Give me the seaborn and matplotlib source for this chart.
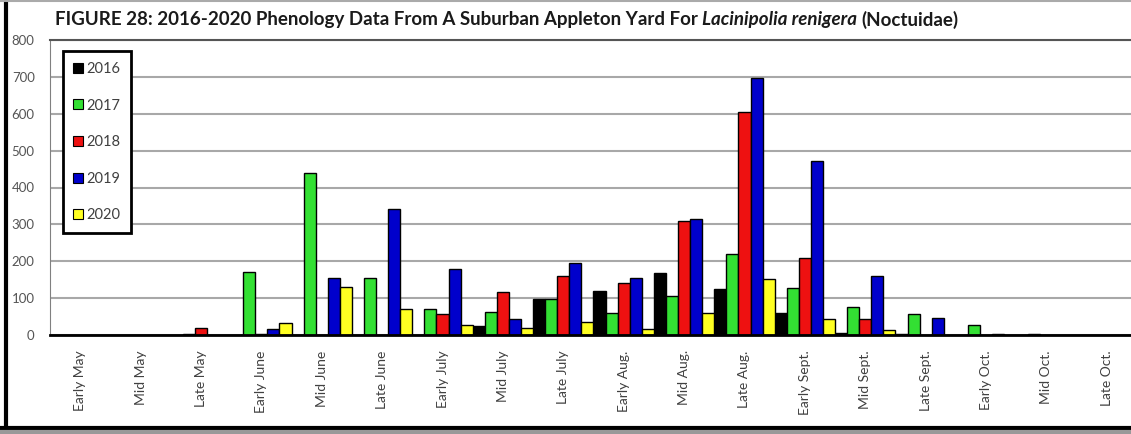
import numpy as np
import pandas as pd
import matplotlib
matplotlib.use("Agg")
import matplotlib.pyplot as plt
from matplotlib.lines import Line2D
import seaborn as sns

# données
periods = ["Early May", "Mid May", "Late May", "Early June", "Mid June", "Late June",
           "Early July", "Mid July", "Late July", "Early Aug.", "Mid Aug.", "Late Aug.",
           "Early Sept.", "Mid Sept.", "Late Sept.", "Early Oct.", "Mid Oct.", "Late Oct."]
years = ["2016", "2017", "2018", "2019", "2020"]
v2016 = [0, 0, 0, 0, 0, 0, 0, 25, 98, 119, 167, 124, 61, 6, 2, 0, 0, 0]
v2017 = [0, 0, 3, 172, 438, 154, 70, 62, 98, 59, 106, 220, 127, 77, 58, 27, 2, 0]
v2018 = [0, 0, 18, 2, 0, 0, 57, 116, 161, 140, 310, 606, 208, 43, 0, 0, 0, 0]
v2019 = [0, 0, 0, 16, 155, 341, 178, 43, 196, 154, 315, 696, 473, 160, 47, 4, 0, 0]
v2020 = [0, 0, 0, 33, 129, 70, 27, 20, 34, 16, 61, 151, 43, 14, 0, 0, 0, 0]
colors = ["#000000", "#33e033", "#ee1111", "#0000cc", "#ffff22"]

df = pd.DataFrame({
    "period": periods * 5,
    "year": [y for y in years for _ in periods],
    "count": v2016 + v2017 + v2018 + v2019 + v2020,
})

sns.set_style("white")
plt.rcParams["font.family"] = ["Lato", "DejaVu Sans"]

W, H = 1131, 434
fig = plt.figure(figsize=(W / 100, H / 100), dpi=100)
# axe qui dépasse un peu à droite, comme l'original rogné
ax = fig.add_axes([50 / W, (H - 335) / H, 1087 / W, 295 / H])

sns.barplot(data=df, x="period", y="count", hue="year", order=periods,
            hue_order=years, palette=colors, width=1.0, gap=0,
            edgecolor="black", linewidth=1, saturation=1, ax=ax, legend=False)

ax.set_ylim(0, 800)
ax.set_xlim(-0.5, len(periods) - 0.5)
ax.set_yticks(range(0, 801, 100))
ax.yaxis.grid(True, color="#a8a8a8", linewidth=1.5)
ax.set_axisbelow(True)
ax.set_xlabel("")
ax.set_ylabel("")

ax.set_xticks(np.arange(-0.5, len(periods)), labels=[])
ax.set_xticks(np.arange(len(periods)), labels=periods, minor=True)
ax.tick_params(axis="x", which="major", direction="inout", length=9, width=1.5, color="black")
ax.tick_params(axis="x", which="minor", length=0, pad=11, labelsize=10, labelcolor="#404040",
               labelrotation=90)
ax.tick_params(axis="y", direction="out", length=5, width=1, color="#808080",
               labelsize=9.5, labelcolor="#555555", pad=6)
for lab in ax.get_xticklabels(minor=True):
    lab.set_verticalalignment("top")

ax.spines["bottom"].set_color("black")
ax.spines["bottom"].set_linewidth(2)
ax.spines["left"].set_color("#808080")
ax.spines["top"].set_color("#555555")
ax.spines["top"].set_linewidth(1.5)
ax.spines["right"].set_visible(False)

# légende
handles = [Line2D([], [], marker="s", linestyle="none", markersize=7,
                  markerfacecolor=c, markeredgecolor="black", markeredgewidth=0.8)
           for c in colors]
leg = fig.legend(handles, years, loc="upper left",
                 bbox_to_anchor=(63 / W, 1 - 51 / H), fontsize=10.5,
                 labelspacing=1.55, handlelength=0.6, handletextpad=0.25,
                 borderpad=0.75, fancybox=False, framealpha=1, borderaxespad=0)
leg.get_frame().set_edgecolor("black")
leg.get_frame().set_linewidth(2)
for t in leg.get_texts():
    t.set_color("#404040")

# titre en plusieurs morceaux (partie italique)
fig.canvas.draw()
r = fig.canvas.get_renderer()
x = 55 / W
parts = [("FIGURE 28: 2016-2020 Phenology Data From A Suburban Appleton Yard For", "normal"),
         ("Lacinipolia renigera", "italic"),
         ("(Noctuidae)", "normal")]
for s, st in parts:
    t = fig.text(x, 1 - 20 / H, s, fontsize=13.5, fontweight="bold", style=st,
                 va="center", ha="left", color="#1a1a1a")
    bb = t.get_window_extent(r)
    x += (bb.width + 4) / W

# cadre de la capture
fig.add_artist(Line2D([6 / W, 6 / W], [0, 1], transform=fig.transFigure, color="black", linewidth=3))
fig.add_artist(Line2D([0, 1], [1 - 428 / H, 1 - 428 / H], transform=fig.transFigure, color="black", linewidth=3))
fig.add_artist(Line2D([0, 1], [1 - 432 / H, 1 - 432 / H], transform=fig.transFigure, color="#999999", linewidth=3))
fig.add_artist(Line2D([0, 1], [1 - 1 / H, 1 - 1 / H], transform=fig.transFigure, color="#aaaaaa", linewidth=1.5))

fig.savefig("out.png", dpi=100)
